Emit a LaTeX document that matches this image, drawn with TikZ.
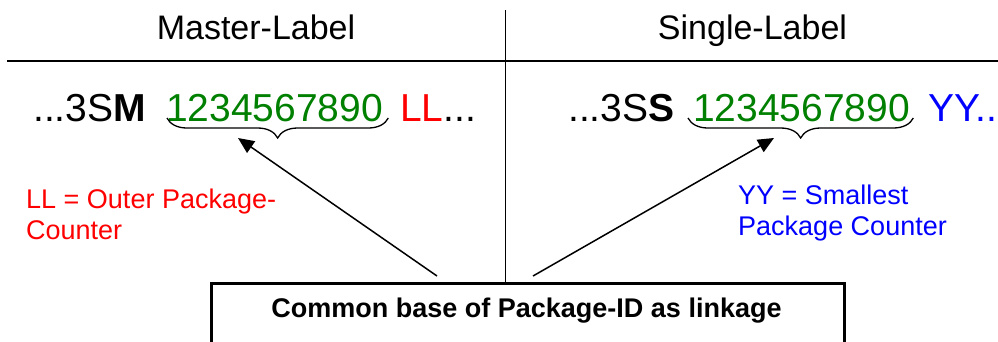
\documentclass[tikz,border=0pt]{standalone}
\usepackage{fontspec}
\setmainfont{Liberation Sans}
\usetikzlibrary{decorations.pathreplacing,arrows.meta,calc}
\definecolor{dgreen}{RGB}{0,128,0}
\definecolor{lred}{RGB}{255,0,0}
\definecolor{lblue}{RGB}{0,0,255}
\tikzset{
  head/.style={inner sep=0pt, anchor=base, font=\fontsize{34}{40}\selectfont},
  code/.style={inner sep=0pt, anchor=base west, font=\fontsize{39}{45}\selectfont},
  note/.style={inner sep=0pt, anchor=base west, align=left, font=\fontsize{27}{30.5}\selectfont},
  bracestyle/.style={decorate, decoration={brace, mirror, amplitude=20pt, aspect=0.5}, line width=1.3pt},
  arr/.style={-{Triangle[length=16pt,width=14pt]}, line width=1.5pt},
}
\begin{document}
\begin{tikzpicture}[x=1pt,y=-1pt]
\clip (0,0) rectangle (998,341);
\fill[white] (0,0) rectangle (998,341);
% headings and dividers
\node[head] (hm) at (256,39) {Master-Label};
\node[head] (hs) at (752.5,39) {Single-Label};
\coordinate (hl) at (7,61);
\coordinate (hr) at (998,61);
\draw[line width=2.3pt] (hl) -- (hr);
% box
\node[draw, line width=3.3pt, anchor=north west, minimum width=633pt, minimum height=100pt, inner sep=0pt] (box) at (210,282) {};
\node[inner sep=0pt, anchor=base, font=\fontsize{27}{30}\selectfont\bfseries] (boxtxt) at (526.5,317) {Common base of Package-ID as linkage};
\coordinate (vt) at (505.5,10);
\draw[line width=1.3pt] (vt) -- (vt |- box.north);
% master row
\node[code] (m0) at (33,121) {...3S\textbf{M}};
\node[code, text=dgreen] (m1) at (166,121) {1234567890};
\node[code] (m2) at (400,121) {\textcolor{lred}{LL}...};
\draw[bracestyle] ($(m1.base west)+(1,-3)$) -- ($(m1.base east)+(5,-3)$);
% single row
\node[code] (s0) at (568,121) {...3S\textbf{S}};
\node[code, text=dgreen] (s1) at (693,121) {1234567890};
\node[code] (s2) at (928,121) {\textcolor{lblue}{YY..}};
\draw[bracestyle] ($(s1.base west)+(-5,-3)$) -- ($(s1.base east)+(3,-3)$);
% notes (base = last line)
\node[note, text=lred] (nl) at (26,239) {LL = Outer Package-\\Counter};
\node[note, text=lblue] (nr) at (738,235) {YY = Smallest\\Package Counter};
% arrows
\coordinate (a1s) at (437,276);
\coordinate (a1e) at (238,138);
\coordinate (a2s) at (533,276);
\coordinate (a2e) at (774,138);
\draw[arr] (a1s) -- (a1e);
\draw[arr] (a2s) -- (a2e);
\end{tikzpicture}
\end{document}
